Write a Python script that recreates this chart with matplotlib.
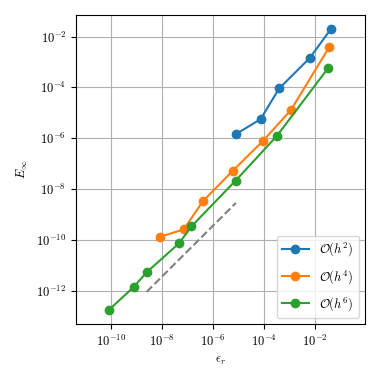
import matplotlib
matplotlib.use("Agg")
import matplotlib.pyplot as plt
import numpy as np
from matplotlib.ticker import NullLocator

plt.rcParams['mathtext.fontset'] = 'cm'
plt.rcParams['font.family'] = 'serif'
plt.rcParams['font.serif'] = ['cmr10', 'DejaVu Serif']
plt.rcParams['axes.formatter.use_mathtext'] = True
plt.rcParams['font.size'] = 9

# (log10 values)
eps_h2 = [-5.10, -4.13, -3.40, -2.20, -1.37]
err_h2 = [-5.84, -5.25, -4.04, -2.84, -1.70]

eps_h4 = [-8.08, -7.14, -6.40, -5.22, -4.03, -2.94, -1.44]
err_h4 = [-9.88, -9.59, -8.49, -7.28, -6.10, -4.89, -2.42]

eps_h6 = [-10.07, -9.11, -8.60, -7.32, -6.84, -5.11, -3.49, -1.48]
err_h6 = [-12.75, -11.86, -11.28, -10.13, -9.47, -7.67, -5.91, -3.24]

ref_eps = [-8.60, -5.10]
ref_shift = -3.45

x_ticks = [-10, -8, -6, -4, -2]
y_ticks = [-12, -10, -8, -6, -4, -2]

fig = plt.figure(figsize=(3.8, 3.8), dpi=100)
ax = fig.add_axes([0.2, 0.147, 0.76, 0.814])

ax.loglog(10.0 ** np.array(eps_h2), 10.0 ** np.array(err_h2), 'o-', color='tab:blue', label=r'$\mathcal{O}(h^2)$')
ax.loglog(10.0 ** np.array(eps_h4), 10.0 ** np.array(err_h4), 'o-', color='tab:orange', label=r'$\mathcal{O}(h^4)$')
ax.loglog(10.0 ** np.array(eps_h6), 10.0 ** np.array(err_h6), 'o-', color='tab:green', label=r'$\mathcal{O}(h^6)$')

x_ref = 10.0 ** np.array(ref_eps)
ax.loglog(x_ref, x_ref * 10.0 ** ref_shift, '--', color='gray', lw=1.5)

ax.set_xlim(10.0 ** -11.37, 10.0 ** -0.04)
ax.set_ylim(10.0 ** -13.32, 10.0 ** -1.14)
ax.set_xticks([10.0 ** t for t in x_ticks])
ax.set_xticklabels([r'$10^{%d}$' % t for t in x_ticks])
ax.set_yticks([10.0 ** t for t in y_ticks])
ax.set_yticklabels([r'$10^{%d}$' % t for t in y_ticks])
ax.xaxis.set_minor_locator(NullLocator())
ax.yaxis.set_minor_locator(NullLocator())

ax.grid(True)
ax.set_xlabel(r'$\epsilon_r$')
ax.set_ylabel(r'$E_\infty$')
ax.legend(loc='lower right', fontsize=9, labelspacing=0.75, handlelength=2.2)

fig.savefig('out.png', dpi=100)
